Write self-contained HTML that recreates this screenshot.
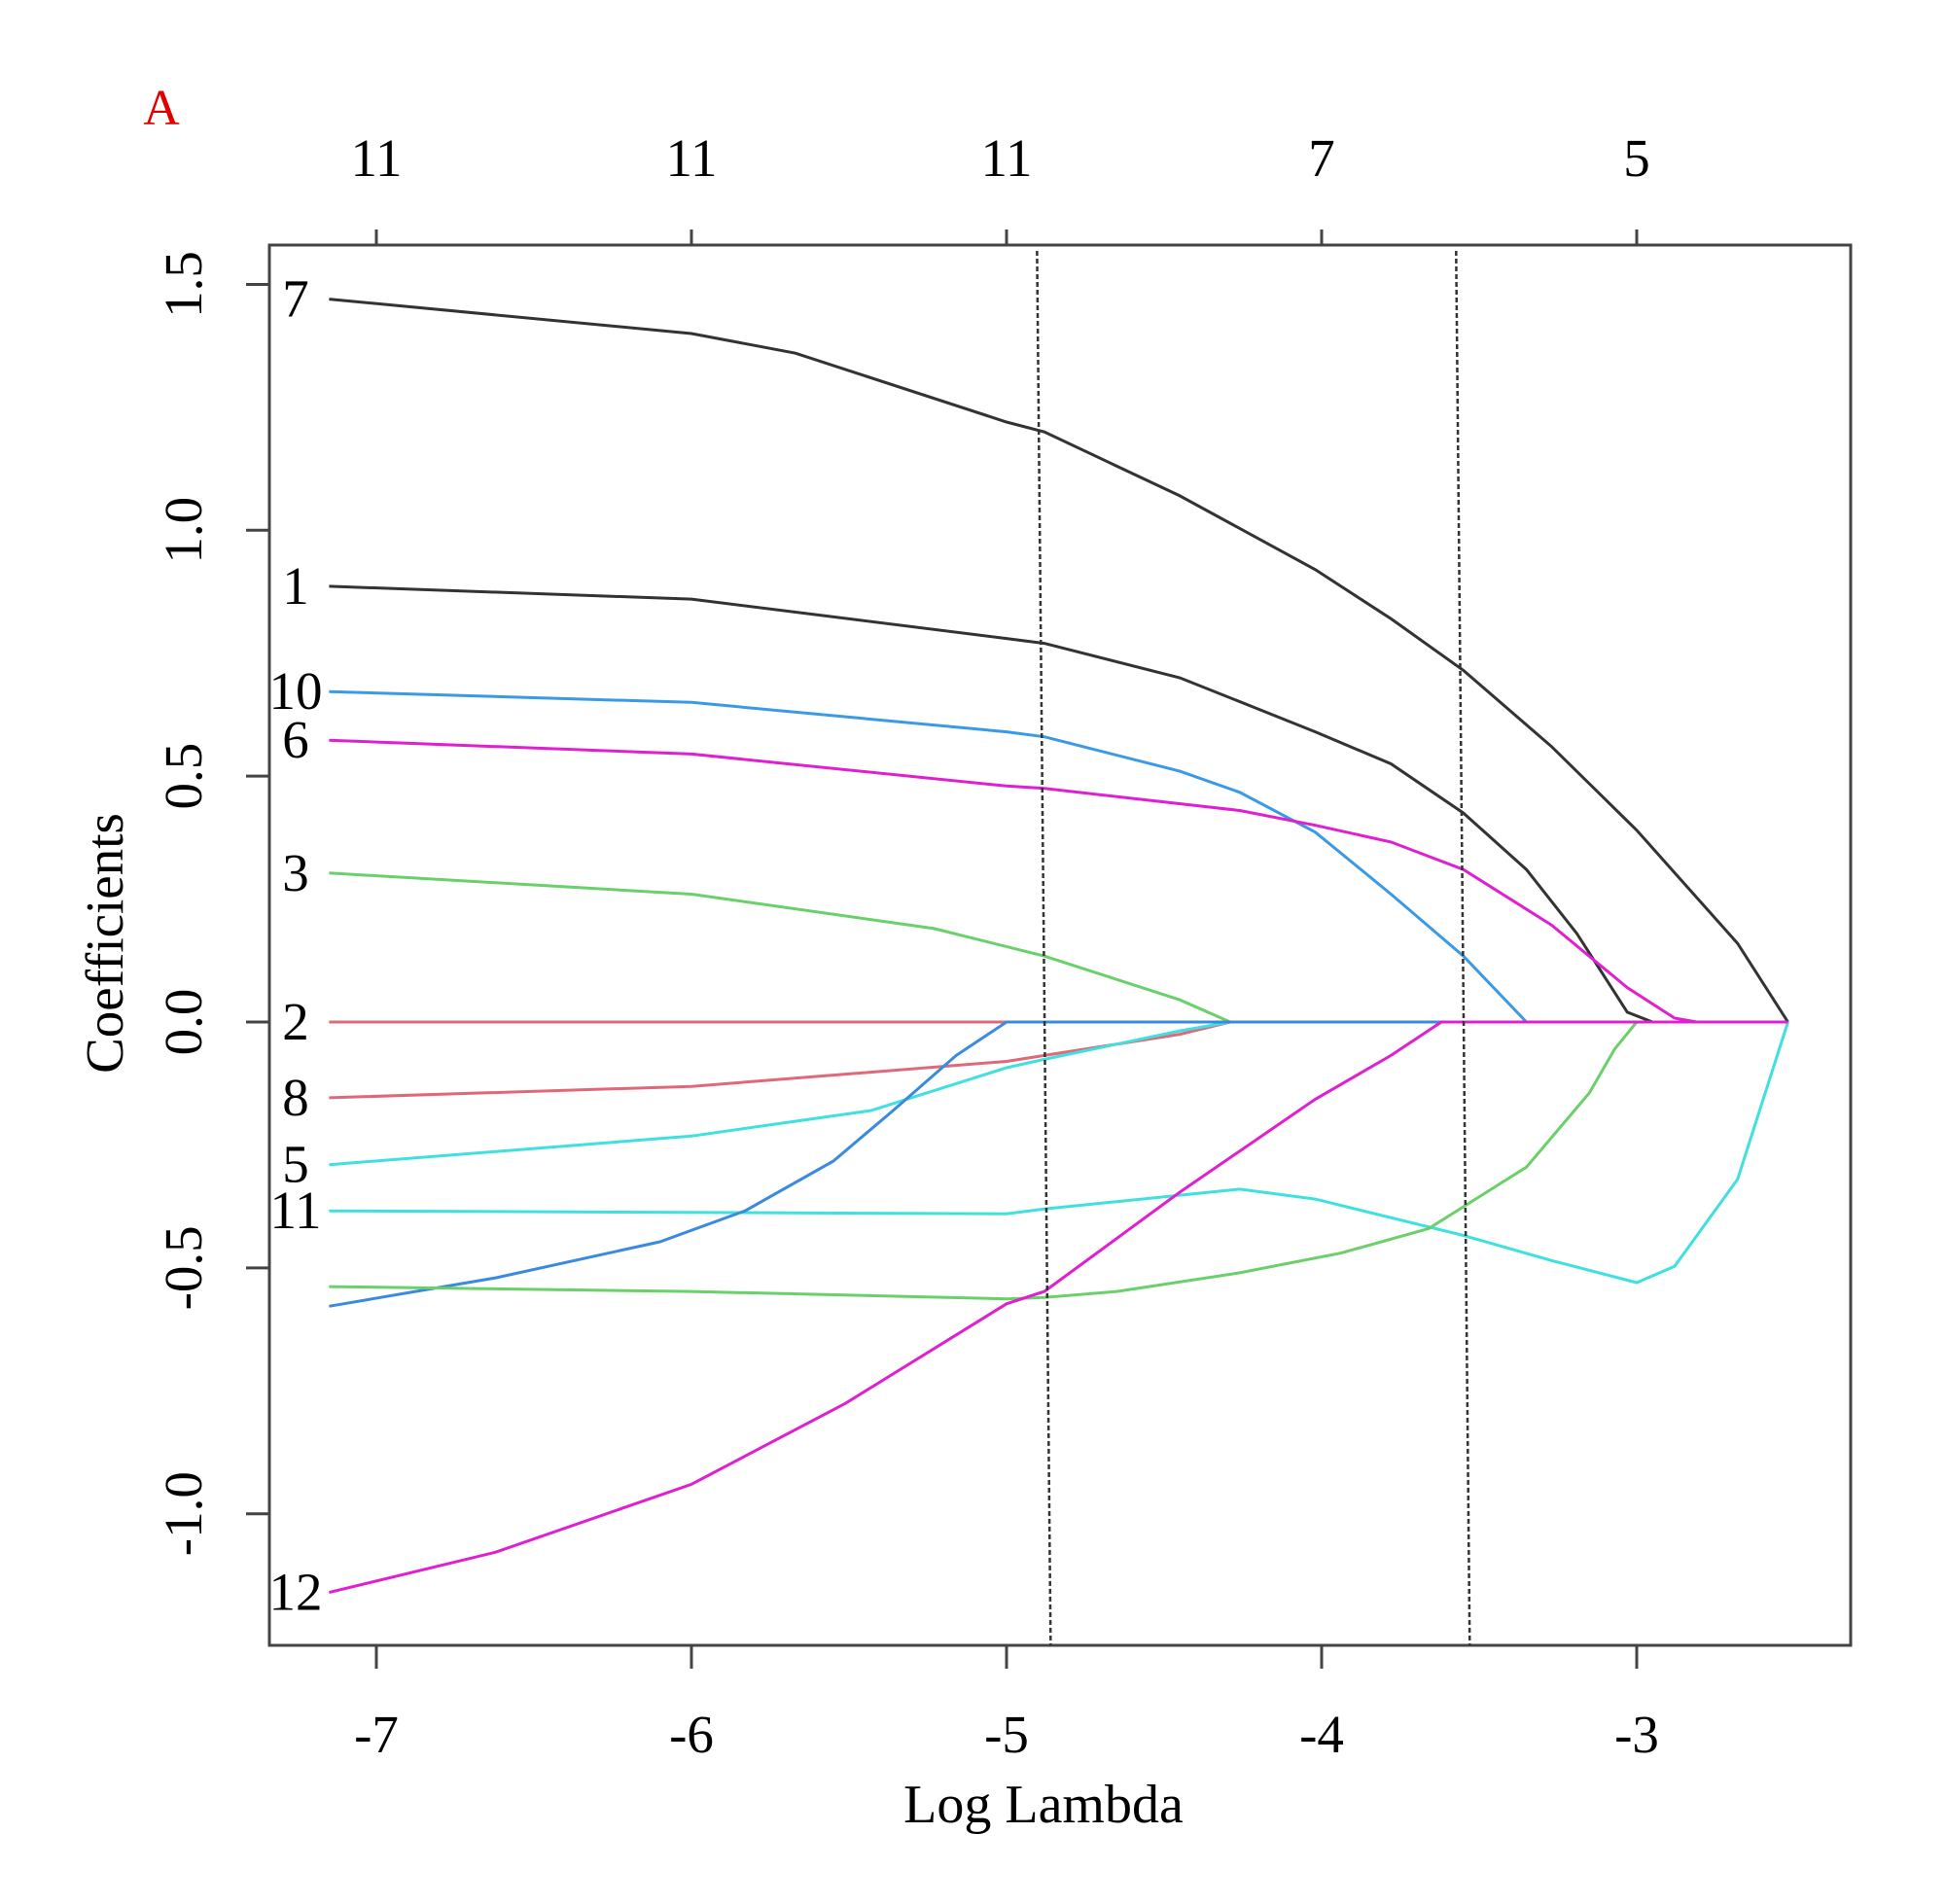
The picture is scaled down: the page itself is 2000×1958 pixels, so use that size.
<!DOCTYPE html>
<html><head><meta charset="utf-8"><style>
html,body{margin:0;padding:0;background:#fff;}
svg{display:block;font-family:"Liberation Serif",serif;}
</style></head><body>
<svg id="chart" width="2000" height="1958" viewBox="0 0 2000 1958" xmlns="http://www.w3.org/2000/svg">
<text x="166" y="128" font-size="52" fill="#e00000" text-anchor="middle">A</text>
<rect x="277" y="252" width="1626" height="1440" fill="none" stroke="#444" stroke-width="3"/>
<g id="axes"></g>
<g id="lines"></g>
<text x="1073" y="1874" font-size="56" text-anchor="middle">Log Lambda</text>
<text transform="translate(126,970) rotate(-90)" font-size="55" text-anchor="middle">Coefficients</text>
</svg>
<script>
const xTicks=[-7,-6,-5,-4,-3];
const xTickLabels=["-7","-6","-5","-4","-3"];
const topLabels=["11","11","11","7","5"];
const yTicks=[-1.0,-0.5,0.0,0.5,1.0,1.5];
const yTickLabels=["-1.0","-0.5","0.0","0.5","1.0","1.5"];
const cvLines=[-4.86,-3.53];
const seriesNames=["7","1","10","6","3","2","8","5","11","9","4","12"];
const seriesColors=["#333","#333","#3a9ae8","#e020d0","#6ad06a","#e06878","#e06878","#40e0e0","#40e0e0","#3a8ae0","#6ad06a","#e020d0"];
const lam7=[-7.15,-6.0,-5.67,-5.0,-4.88,-4.45,-4.02,-3.78,-3.55,-3.27,-3.0,-2.68,-2.52];
const coef7=[1.47,1.40,1.36,1.22,1.20,1.07,0.92,0.82,0.715,0.56,0.39,0.16,0];
const lam1=[-7.15,-6.0,-5.0,-4.88,-4.45,-4.02,-3.78,-3.55,-3.35,-3.19,-3.03,-2.95,-2.52];
const coef1=[0.886,0.86,0.78,0.77,0.70,0.59,0.525,0.425,0.31,0.18,0.02,0,0];
const lam10=[-7.15,-6.0,-5.0,-4.88,-4.45,-4.26,-4.02,-3.78,-3.55,-3.35,-2.52];
const coef10=[0.672,0.65,0.59,0.58,0.51,0.467,0.386,0.26,0.134,0,0];
const lam6=[-7.15,-6.0,-5.0,-4.88,-4.26,-4.02,-3.78,-3.55,-3.27,-3.03,-2.88,-2.81,-2.52];
const coef6=[0.573,0.545,0.48,0.475,0.43,0.40,0.366,0.31,0.197,0.07,0.008,0,0];
const lam3=[-7.15,-6.0,-5.23,-4.88,-4.45,-4.29,-2.52];
const coef3=[0.303,0.26,0.19,0.134,0.045,0,0];
const lam2=[-7.15,-2.52];
const coef2=[0,0];
const lam8=[-7.15,-6.0,-5.0,-4.88,-4.45,-4.29,-2.52];
const coef8=[-0.154,-0.131,-0.08,-0.068,-0.025,0,0];
const lam5=[-7.15,-6.0,-5.43,-5.0,-4.88,-4.45,-4.29,-2.52];
const coef5=[-0.29,-0.232,-0.18,-0.093,-0.076,-0.018,0,0];
const lam11=[-7.15,-5.0,-4.88,-4.26,-4.02,-3.55,-3.27,-3.0,-2.88,-2.68,-2.52];
const coef11=[-0.384,-0.39,-0.38,-0.34,-0.36,-0.434,-0.485,-0.53,-0.497,-0.32,0];
const lam9=[-7.15,-6.62,-6.1,-5.83,-5.55,-5.36,-5.16,-5.0,-2.52];
const coef9=[-0.578,-0.52,-0.447,-0.384,-0.283,-0.18,-0.068,0,0];
const lam4=[-7.15,-6.0,-5.0,-4.88,-4.65,-4.26,-3.94,-3.66,-3.35,-3.15,-3.07,-3.0,-2.52];
const coef4=[-0.538,-0.548,-0.563,-0.56,-0.548,-0.51,-0.47,-0.42,-0.295,-0.144,-0.055,0,0];
const lam12=[-7.15,-6.62,-6.0,-5.51,-5.0,-4.88,-4.45,-4.02,-3.78,-3.62,-2.52];
const coef12=[-1.16,-1.078,-0.94,-0.775,-0.573,-0.548,-0.346,-0.157,-0.068,0,0];
const lamSeries=[lam7,lam1,lam10,lam6,lam3,lam2,lam8,lam5,lam11,lam9,lam4,lam12];
const coefSeries=[coef7,coef1,coef10,coef6,coef3,coef2,coef8,coef5,coef11,coef9,coef4,coef12];

const NS="http://www.w3.org/2000/svg";
function X(v){return 387+(v+7)*324;}
function Y(v){return 1051-v*505.7;}
function mk(tag,attrs,parent){const e=document.createElementNS(NS,tag);for(const k in attrs)e.setAttribute(k,attrs[k]);parent.appendChild(e);return e;}
const axes=document.getElementById('axes');
const lines=document.getElementById('lines');
xTicks.forEach((t,i)=>{
  let l=mk('line',{x1:X(t),x2:X(t),y1:1692,y2:1716,stroke:'#444','stroke-width':3},axes);
  
  
  let tx=mk('text',{x:X(t),y:1802,'font-size':55,'text-anchor':'middle'},axes);
  tx.textContent=xTickLabels[i];
  
  
  let l2=mk('line',{x1:X(t),x2:X(t),y1:252,y2:236,stroke:'#444','stroke-width':3},axes);
  
  
  let t2=mk('text',{x:X(t),y:181,'font-size':55,'text-anchor':'middle'},axes);
  t2.textContent=topLabels[i];
  
  
});
yTicks.forEach((t,i)=>{
  let l=mk('line',{x1:253,x2:277,y1:Y(t),y2:Y(t),stroke:'#444','stroke-width':3},axes);
  
  
  let tx=mk('text',{transform:`translate(207,${Y(t)}) rotate(-90)`,'font-size':55,'text-anchor':'middle'},axes);
  tx.textContent=yTickLabels[i];
  
  
});
lamSeries.forEach((lam,i)=>{
  const c=coefSeries[i];
  const d=lam.map((v,j)=>(j?'L':'M')+X(v).toFixed(1)+','+Y(c[j]).toFixed(1)).join(' ');
  let p=mk('path',{d:d,fill:'none',stroke:seriesColors[i],'stroke-width':3},lines);
  
  
  let tx=mk('text',{x:304,y:Y(c[0])+18,'font-size':55,'text-anchor':'middle'},lines);
  tx.textContent=seriesNames[i]==="9"||seriesNames[i]==="4"?"":seriesNames[i];
  
  
});
cvLines.forEach((v,i)=>{
  let l=mk('line',{x1:X(v)-14,x2:X(v),y1:258,y2:1692,stroke:'#333','stroke-width':2.5,'stroke-dasharray':'5,3'},lines);
  
  
});
</script>
</body></html>
